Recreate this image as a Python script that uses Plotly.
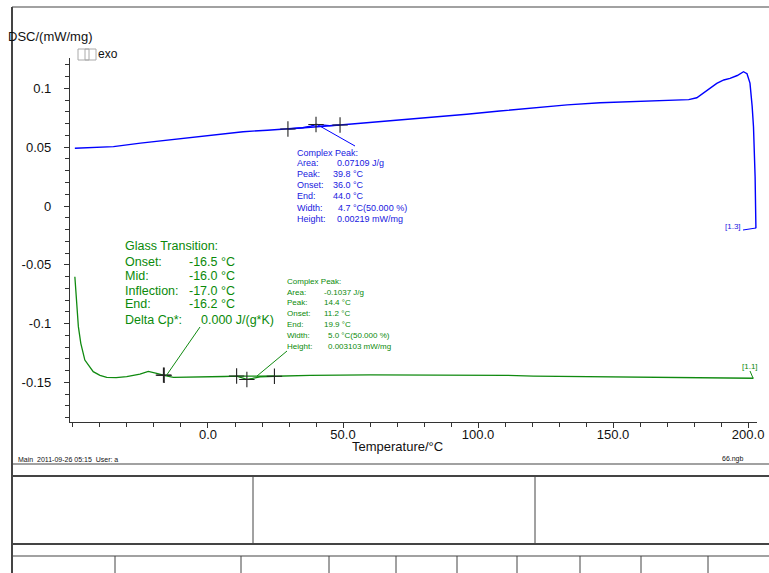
import plotly.graph_objects as go

# ---------------- data ----------------
blue_T = [-49.3, -45, -35, -25, -17.8, -5, 5, 13, 22, 29.6, 35, 38, 40, 42, 45, 48.9, 60, 74.8, 85,
          95.8, 108, 120.4, 133, 145.2, 158, 169.9, 178, 181, 185, 188.4, 191, 193.3, 196, 198.3,
          199.6, 200.7, 201.5, 202.0, 202.6, 202.9]
blue_v = [0.0491, 0.0494, 0.0505, 0.0535, 0.0553, 0.0585, 0.0612, 0.0632, 0.0645, 0.0655, 0.0666,
          0.0680, 0.0693, 0.0690, 0.0684, 0.0689, 0.0710, 0.0737, 0.0760, 0.0780, 0.0808, 0.0836,
          0.0860, 0.0878, 0.0890, 0.0895, 0.0905, 0.0921, 0.0985, 0.1043, 0.1072, 0.1086, 0.1110,
          0.1142, 0.1125, 0.1045, 0.0850, 0.0674, 0.0249, -0.0190]

green_T = [-49.3, -48.6, -48.0, -47.1, -45.6, -42.5, -40, -37.5, -34, -30.1, -25.2, -22.1, -20.5,
           -19, -16.5, -15.9, -12.8, -5, 0.7, 6, 10.6, 12.5, 14.4, 16.5, 19.3, 24.6, 37.8, 60, 95.8,
           110, 120.5, 140, 157.5, 180, 202.0]
green_v = [-0.0601, -0.0828, -0.1026, -0.1168, -0.1310, -0.1409, -0.1440, -0.1457, -0.1460, -0.1451,
           -0.1429, -0.1406, -0.1412, -0.1423, -0.1438, -0.1443, -0.1457, -0.1456, -0.1454, -0.1450,
           -0.1446, -0.1458, -0.1475, -0.1466, -0.1452, -0.1448, -0.1440, -0.1437, -0.1435, -0.1440,
           -0.1446, -0.1451, -0.1454, -0.1459, -0.1465]

blue_marks_T = [29.6, 40.0, 48.9]
blue_marks_v = [0.0655, 0.0693, 0.0689]
blue_base_T = [29.6, 48.9]
blue_base_v = [0.0655, 0.0689]

green_marks_T = [-16.5, -16.2, 10.6, 14.4, 24.6]
green_marks_v = [-0.1438, -0.1440, -0.1446, -0.1475, -0.1448]
green_base_T = [10.6, 24.6]
green_base_v = [-0.1446, -0.1448]

x_tickvals = [0, 50, 100, 150, 200]
x_ticktext = ["0.0", "50.0", "100.0", "150.0", "200.0"]
y_tickvals = [0.1, 0.05, 0, -0.05, -0.1, -0.15]
y_ticktext = ["0.1", "0.05", "0", "-0.05", "-0.1", "-0.15"]

blue_rows = [("Area:", "0.07109 J/g"), ("Peak:", "39.8 °C"), ("Onset:", "36.0 °C"),
             ("End:", "44.0 °C"), ("Width:", "4.7 °C(50.000 %)"), ("Height:", "0.00219 mW/mg")]
gt_rows = [("Onset:", "-16.5 °C"), ("Mid:", "-16.0 °C"), ("Inflection:", "-17.0 °C"),
           ("End:", "-16.2 °C"), ("Delta Cp*:", "0.000 J/(g*K)")]
green_rows = [("Area:", "-0.1037 J/g"), ("Peak:", "14.4 °C"), ("Onset:", "11.2 °C"),
              ("End:", "19.9 °C"), ("Width:", "5.0 °C(50.000 %)"), ("Height:", "0.003103 mW/mg")]

# ---------------- layout geometry ----------------
W, H = 769, 573
L, R, T, B = 70, 12, 58, 151
X0, X1 = -51.1, 203.3
Y0, Y1 = -0.1837, 0.1259
PW, PH = W - L - R, H - T - B

def dx(px):
    return X0 + (px - L) / PW * (X1 - X0)

def dy(py):
    return Y1 - (py - T) / PH * (Y1 - Y0)

def pxp(px):
    return (px - L) / PW

def pyp(py):
    return (H - B - py) / PH

FONT = "Liberation Sans, Arial, sans-serif"
BLUE = "#0000ff"
BLUE_TXT = "#2020e0"
GREEN = "#108a10"
GREEN_TXT = "#0a8a0a"

fig = go.Figure()
fig.add_trace(go.Scatter(x=blue_T, y=blue_v, mode="lines", line=dict(color=BLUE, width=1.4)))
fig.add_trace(go.Scatter(x=blue_base_T, y=blue_base_v, mode="lines", line=dict(color=BLUE, width=1.4)))
fig.add_trace(go.Scatter(x=green_T, y=green_v, mode="lines", line=dict(color=GREEN, width=1.3)))
fig.add_trace(go.Scatter(x=green_base_T, y=green_base_v, mode="lines", line=dict(color=GREEN, width=1.3)))
fig.add_trace(go.Scatter(x=blue_marks_T + green_marks_T, y=blue_marks_v + green_marks_v, mode="markers",
                         marker=dict(symbol="cross-thin", size=11, line=dict(color="#222", width=1.1))))

shapes = []
def seg(x0, y0, x1, y1, color, width=1, ref="data"):
    if ref == "data":
        shapes.append(dict(type="line", xref="x", yref="y", x0=x0, y0=y0, x1=x1, y1=y1,
                           line=dict(color=color, width=width)))
    else:
        shapes.append(dict(type="line", xref="paper", yref="paper", x0=pxp(x0), y0=pyp(y0),
                           x1=pxp(x1), y1=pyp(y1), line=dict(color=color, width=width)))

# leader lines
seg(dx(318), dy(125), dx(355), dy(146), BLUE)
seg(dx(756), dy(228), dx(743), dy(230), BLUE)
seg(dx(200), dy(327), dx(166), dy(376), GREEN)
seg(dx(287), dy(351), dx(257), dy(376), GREEN)
seg(dx(750), dy(371), dx(753), dy(378), GREEN)

# frame and footer table
FR = "#444"
seg(12, 7, 769, 7, FR, 1.2, "paper")
seg(12, 7, 12, 573, FR, 2, "paper")
seg(12, 464, 769, 464, FR, 1.2, "paper")
seg(12, 476, 769, 476, FR, 2, "paper")
seg(12, 544, 769, 544, FR, 2, "paper")
seg(12, 556, 769, 556, FR, 1.2, "paper")
for xv in [253, 535]:
    seg(xv, 476, xv, 544, FR, 1, "paper")
for xv in [115, 241, 329, 396, 457, 517, 580, 641, 708]:
    seg(xv, 556, xv, 573, FR, 1, "paper")
# exo glyph boxes
for bx in [78, 85]:
    shapes.append(dict(type="rect", xref="paper", yref="paper", x0=pxp(bx), x1=pxp(bx + 11),
                       y0=pyp(60), y1=pyp(49), line=dict(color="#aaa", width=1)))

ann = []
def txt(x, y, s, size, color, anchor="left", ref="data"):
    if ref == "data":
        ann.append(dict(x=dx(x), y=dy(y), xref="x", yref="y", text=s, showarrow=False,
                        xanchor=anchor, yanchor="middle", font=dict(family=FONT, size=size, color=color)))
    else:
        ann.append(dict(x=pxp(x), y=pyp(y), xref="paper", yref="paper", text=s, showarrow=False,
                        xanchor=anchor, yanchor="middle", font=dict(family=FONT, size=size, color=color)))

# blue complex peak block
txt(295, 152.5, "Complex Peak:", 9, BLUE_TXT)
b_y = [163.3, 174.3, 185.3, 196.3, 207.5, 218.5]
b_vx = [335, 331, 331, 331, 336, 335]
for (lab, val), yy, vx in zip(blue_rows, b_y, b_vx):
    txt(295, yy, lab, 9, BLUE_TXT)
    txt(vx, yy, val, 9, BLUE_TXT)
txt(743, 226.5, "[1.3]", 8, BLUE_TXT, "right")

# glass transition block
txt(123, 246, "Glass Transition:", 12.5, GREEN_TXT)
g_y = [262, 276, 290.5, 303.5, 320]
g_vx = [187, 187, 187, 187, 199]
for (lab, val), yy, vx in zip(gt_rows, g_y, g_vx):
    txt(123, yy, lab, 12.5, GREEN_TXT)
    txt(vx, yy, val, 12.5, GREEN_TXT)

# green complex peak block
txt(285, 281, "Complex Peak:", 8, GREEN_TXT)
gp_y = [292, 302.7, 313.7, 324.3, 335.3, 346.5]
gp_vx = [322, 322, 322, 322, 326, 326]
for (lab, val), yy, vx in zip(green_rows, gp_y, gp_vx):
    txt(285, yy, lab, 8, GREEN_TXT)
    txt(vx, yy, val, 8, GREEN_TXT)
txt(750, 366, "[1.1]", 8, GREEN_TXT, "center")

# axis titles and header/footer
txt(6, 37, "DSC/(mW/mg)", 13, "#111", ref="paper")
txt(96, 54, "exo", 12, "#111", ref="paper")
txt(397, 446, "Temperature/°C", 13, "#111", "center", ref="paper")
txt(16, 459, "Main  2011-09-26 05:15  User: a", 7, "#111", ref="paper")
txt(746, 459, "66.ngb", 7, "#111", "right", ref="paper")

fig.update_layout(
    width=W, height=H, autosize=False, template="none",
    margin=dict(l=L, r=R, t=T, b=B, pad=0),
    paper_bgcolor="white", plot_bgcolor="white", showlegend=False,
    font=dict(family=FONT, size=13, color="#111"),
    shapes=shapes, annotations=ann,
    xaxis=dict(range=[X0, X1], showgrid=False, zeroline=False, showline=True, linecolor="#333",
               linewidth=1.3, ticks="outside", ticklen=5, tickcolor="#333", tickwidth=1.2,
               tickvals=x_tickvals, ticktext=x_ticktext, tickfont=dict(size=13, color="#111"),
               ticklabelstandoff=-5,
               minor=dict(dtick=10, tick0=0, ticks="outside", ticklen=4, tickcolor="#333", tickwidth=1.2)),
    yaxis=dict(range=[Y0, Y1], showgrid=False, zeroline=False, showline=True, linecolor="#333",
               linewidth=1.3, ticks="outside", ticklen=5, tickcolor="#333", tickwidth=1.2,
               tickvals=y_tickvals, ticktext=y_ticktext, tickfont=dict(size=13, color="#111"),
               ticklabelstandoff=10,
               minor=dict(dtick=0.01, tick0=0, ticks="outside", ticklen=4, tickcolor="#333", tickwidth=1.2)),
)

fig.write_html("out.html", config={"displayModeBar": False},
               post_script="document.body.style.margin='0';document.body.style.overflow='hidden';")
